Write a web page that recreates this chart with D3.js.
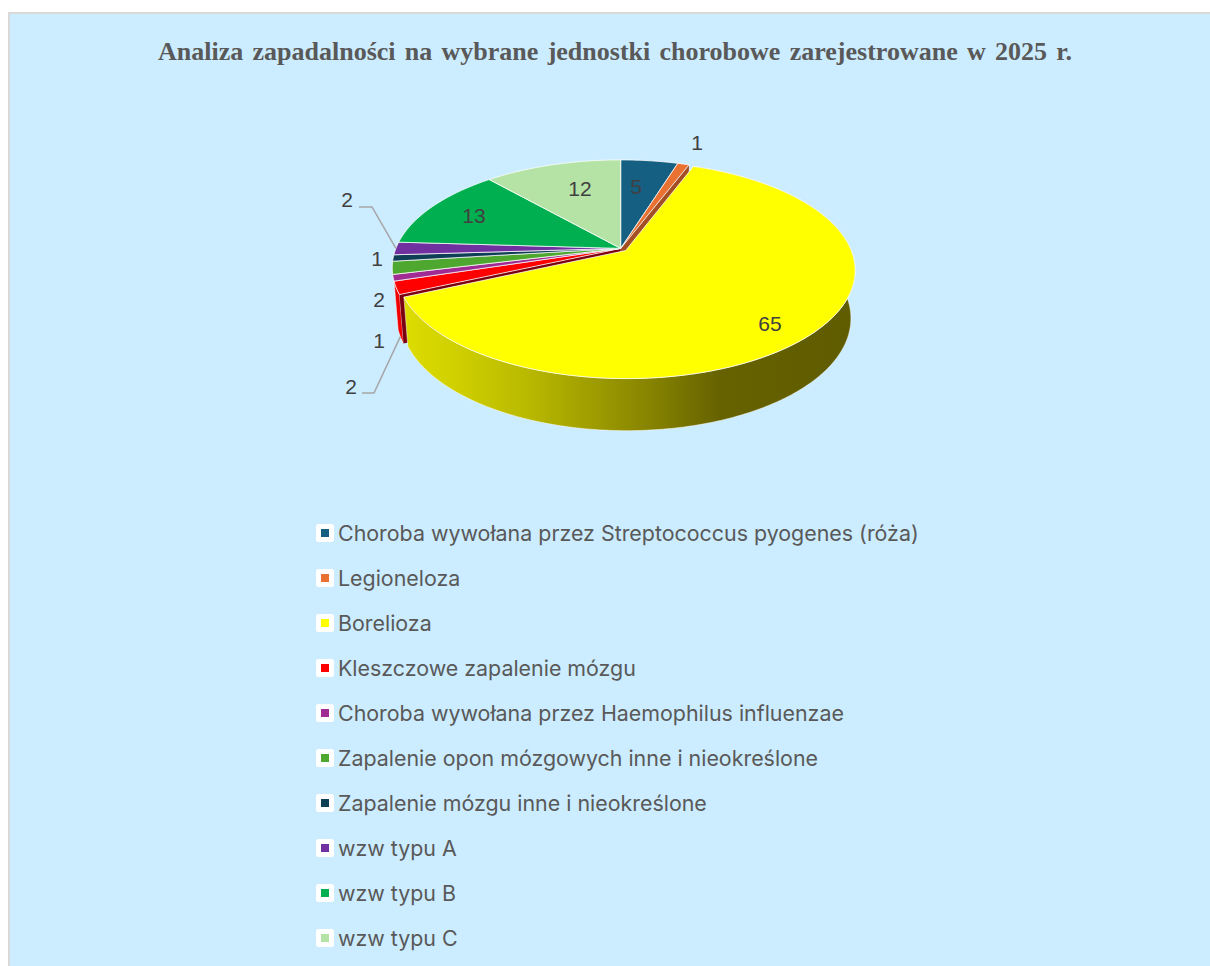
<!DOCTYPE html>
<html>
<head>
<meta charset="utf-8">
<script src="https://d3js.org/d3.v7.min.js"></script>
<style>
	html, body { margin: 0; padding: 0; background: #fff; }
	svg { display: block; }
</style>
</head>
<body>
<svg id="chart" width="1210" height="966"></svg>
<script>
let titleText = "Analiza zapadalności na wybrane jednostki chorobowe zarejestrowane w 2025 r."
let categories = [
	"Choroba wywołana przez Streptococcus pyogenes (róża)",
	"Legioneloza",
	"Borelioza",
	"Kleszczowe zapalenie mózgu",
	"Choroba wywołana przez Haemophilus influenzae",
	"Zapalenie opon mózgowych inne i nieokreślone",
	"Zapalenie mózgu inne i nieokreślone",
	"wzw typu A",
	"wzw typu B",
	"wzw typu C"
]
let values = [5, 1, 65, 2, 1, 2, 1, 2, 13, 12]
let colors = ["#156082", "#e97132", "#ffff00", "#ff0000", "#a02b93", "#4ea72e", "#0f3f55", "#7030a0", "#00b050", "#b5e3a5"]

// label centres, same order as categories
let labelX = [636, 697, 770, 351, 379, 379, 377, 347, 474, 580]
let labelY = [187, 143, 324, 387, 341, 300, 259, 200, 216, 189]

let svg = d3.select('#chart')
let defs = svg.append('defs')

svg.append('rect').attr('x', 9).attr('y', 13).attr('width', 1210).attr('height', 960)
	.attr('fill', '#ccecff').attr('stroke', '#d9d9d9').attr('stroke-width', 2)

svg.append('text').attr('x', 615).attr('y', 60).attr('text-anchor', 'middle')
	.attr('font-family', 'Liberation Serif').attr('font-weight', 'bold').attr('font-size', 26)
	.attr('word-spacing', 2.8)
	.attr('fill', '#595959').text(titleText)

// perspective disc: back is flatter than front, apex sits above ellipse centre
let cx = 620.7, cy = 248.4
let A = 224.8, B = 104.3, k = 0.1786
let shrink = 0.982, depth = 46.9, depthFront = 5.1

let project = (u, v, low) => {
	let w = 1 + k * v
	if (!low) return [cx + A * u / w, cy - B * v / w]
	return [cx + shrink * A * u / w, cy - B * v / w + depth - depthFront * v]
}

let pieData = d3.pie().sort(null).value(d => d)(values)
let orange = 1, yellow = 2, red = 3
let explode = 0.03

let offset = d => {
	if (d.index != yellow) return [0, 0]
	let mid = (d.startAngle + d.endAngle) / 2
	return [explode * Math.sin(mid), explode * Math.cos(mid)]
}
let point = (d, a, r, low) => {
	let o = offset(d)
	return project(o[0] + r * Math.sin(a), o[1] + r * Math.cos(a), low)
}
let arcPoints = (d, a0, a1, low) => {
	let n = Math.max(2, Math.ceil((a1 - a0) * 60))
	return d3.range(n + 1).map(i => point(d, a0 + (a1 - a0) * i / n, 1, low))
}

let line = d3.line()
let closed = pts => line(pts) + 'Z'
let radialWall = (d, a) => closed([point(d, a, 0, false), point(d, a, 1, false), point(d, a, 1, true), point(d, a, 0, true)])
let outerWall = d => closed(arcPoints(d, d.startAngle, d.endAngle, false).concat(arcPoints(d, d.startAngle, d.endAngle, true).reverse()))

let wallGrad = defs.append('linearGradient').attr('id', 'yellow-wall')
	.attr('gradientUnits', 'userSpaceOnUse').attr('x1', 400).attr('x2', 855).attr('y1', 0).attr('y2', 0)
wallGrad.selectAll('stop').data([[0, '#dede00'], [0.12, '#d0d000'], [0.286, '#b8b800'], [0.527, '#8b8800'], [0.703, '#666200'], [1, '#5f5c00']])
	.enter().append('stop').attr('offset', d => d[0]).attr('stop-color', d => d[1])

// walls, back to front. only the ones the yellow slice uncovers are visible
let walls = svg.append('g')
walls.append('path').attr('d', radialWall(pieData[orange], pieData[orange].endAngle))
	.attr('fill', d3.color(colors[orange]).darker(1))
walls.append('path').attr('d', outerWall(pieData[red])).attr('fill', '#f00000')
	.attr('stroke', '#fff').attr('stroke-width', 0.5)
walls.append('path').attr('d', radialWall(pieData[red], pieData[red].startAngle))
	.attr('fill', '#7a0010')
walls.append('path').attr('d', outerWall(pieData[yellow])).attr('fill', 'url(#yellow-wall)')
	.attr('stroke', '#fff').attr('stroke-opacity', 0.7).attr('stroke-width', 0.7)

// top faces
svg.append('g').selectAll('path').data(pieData).enter().append('path')
	.attr('d', d => closed([point(d, 0, 0, false)].concat(arcPoints(d, d.startAngle, d.endAngle, false))))
	.attr('fill', d => colors[d.index])
	.attr('stroke', '#fff').attr('stroke-opacity', 0.75).attr('stroke-width', 1).attr('stroke-linejoin', 'round')

// leader lines
let leader = d3.line()
let redSlice = pieData[red], aSlice = pieData[7]
let lowAnchor = point(redSlice, (redSlice.startAngle + redSlice.endAngle) / 2, 1, true)
let highAnchor = point(aSlice, (aSlice.startAngle + aSlice.endAngle) / 2, 1, false)
svg.append('path').attr('d', leader([lowAnchor, [374, 393], [362, 393]]))
	.attr('fill', 'none').attr('stroke', '#a6a6a6').attr('stroke-width', 1.5)
svg.append('path').attr('d', leader([highAnchor, [372, 207], [359, 207]]))
	.attr('fill', 'none').attr('stroke', '#a6a6a6').attr('stroke-width', 1.5)

// data labels
svg.append('g').selectAll('text').data(values).enter().append('text')
	.attr('x', (d, i) => labelX[i]).attr('y', (d, i) => labelY[i] + 6.5)
	.attr('text-anchor', 'middle').attr('font-family', 'Liberation Sans').attr('font-size', 21)
	.attr('fill', '#404040').text(d => d)

// legend
let legendY = d3.scalePoint().domain(categories).range([533, 938])
let legend = svg.append('g').selectAll('g').data(categories).enter().append('g')
	.attr('transform', d => 'translate(325,' + legendY(d) + ')')
legend.append('rect').attr('x', -9).attr('y', -9).attr('width', 18).attr('height', 18).attr('rx', 2.5).attr('fill', '#fff')
legend.append('rect').attr('x', -4).attr('y', -4).attr('width', 8).attr('height', 8).attr('fill', (d, i) => colors[i])
legend.append('text').attr('x', 13).attr('y', 8).attr('font-family', 'Inter').attr('font-size', 21.4)
	.attr('fill', '#595959').text(d => d)
</script>
</body>
</html>
